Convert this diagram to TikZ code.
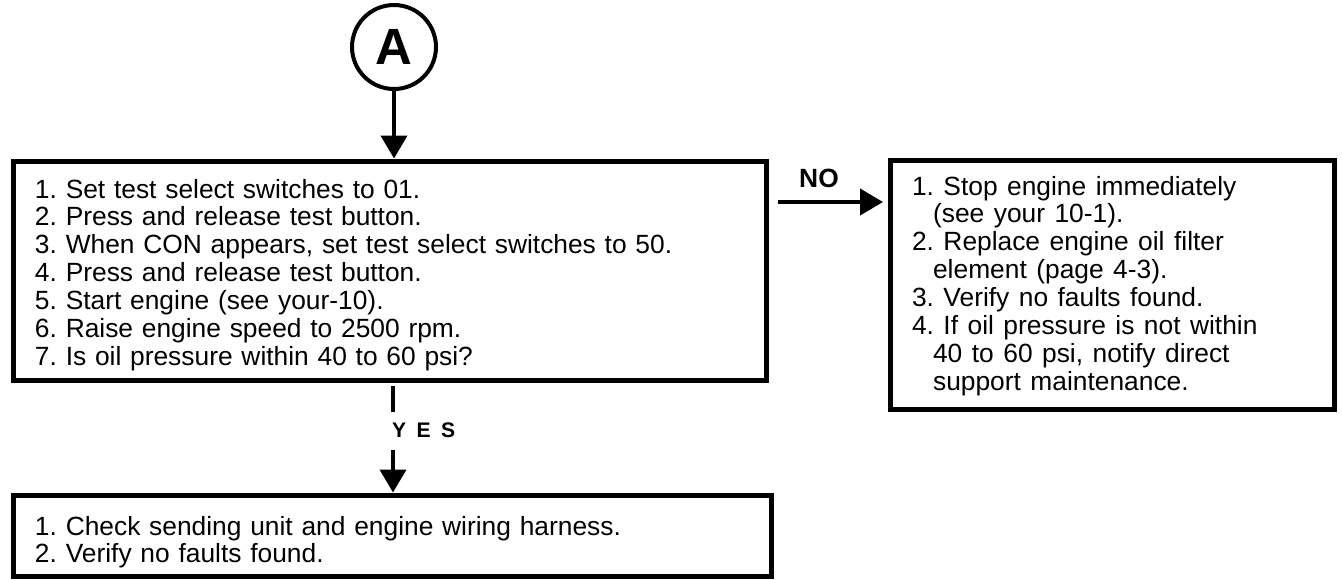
\documentclass[tikz,border=0pt]{standalone}
\usepackage{fontspec}
\setmainfont{Liberation Sans}
\usetikzlibrary{arrows.meta, positioning, calc}
\frenchspacing

\begin{document}
\begin{tikzpicture}[x=0.02cm, y=-0.02cm, line width=0.08cm,
    >={Triangle[length=0.46cm, width=0.52cm]},
    box/.style={draw, rectangle, line width=0.1cm},
    steps/.style={font=\fontsize{15}{15.9}\selectfont, align=left, inner sep=0pt, anchor=base west, text width=#1},
    tag/.style={font=\bfseries\fontsize{15}{16}\selectfont, inner sep=0pt}]
  \useasboundingbox (0,0) rectangle (1342,579);

  % Entry point
  \node[draw, circle, line width=0.08cm, minimum size=1.68cm, inner sep=0pt,
        font=\bfseries\fontsize{29}{30}\selectfont] (A) at (394,47) {A};

  % Oil pressure test
  \node[box, minimum width=15.08cm, minimum height=4.4cm] (test) at (390,271) {};
  \node[steps=14.5cm] (testtxt) at (33,198) {1. Set test select switches to 01.\\
    2. Press and release test button.\\
    3. When CON appears, set test select switches to 50.\\
    4. Press and release test button.\\
    5. Start engine (see your-10).\\
    6. Raise engine speed to 2500 rpm.\\
    7. Is oil pressure within 40 to 60 psi?};
  \draw[->] (A.south) -- (A.south |- test.north);

  % NO branch
  \node[box, minimum width=8.9cm, minimum height=5cm] (fix) at (1112.5,285) {};
  \node[steps=8.5cm] (fixtxt) at (910,195) {\spaceskip=0.36em
    1. Stop engine immediately\\
    \hspace*{0.8em}(see your 10-1).\\
    2. Replace engine oil filter\\
    \hspace*{0.8em}element (page 4-3).\\
    3. Verify no faults found.\\
    4. If oil pressure is not within\\
    \hspace*{0.8em}40 to 60 psi, notify direct\\
    \hspace*{0.8em}support maintenance.};
  \coordinate (nostart) at (778,202);
  \draw[->, shorten >=0.09cm] (nostart) -- (nostart -| fix.west);
  \node[tag] (no) at (819,178) {NO};

  % YES branch
  \node[box, minimum width=15.18cm, minimum height=1.62cm] (check) at (392.5,535.5) {};
  \node[steps=14.5cm] (checktxt) at (33,535) {1. Check sending unit and engine wiring harness.\\
    2. Verify no faults found.};
  \coordinate (yes1) at (393,412);
  \coordinate (yes2) at (393,450);
  \draw[shorten <=0.05cm] (test.south -| yes1) -- (yes1);
  \node[tag, anchor=west, font=\bfseries\fontsize{12}{14}\selectfont] (yes) at (390,430) {Y\hspace{0.5em}E\hspace{0.5em}S};
  \draw[->] (yes2) -- (yes2 |- check.north);
\end{tikzpicture}
\end{document}
